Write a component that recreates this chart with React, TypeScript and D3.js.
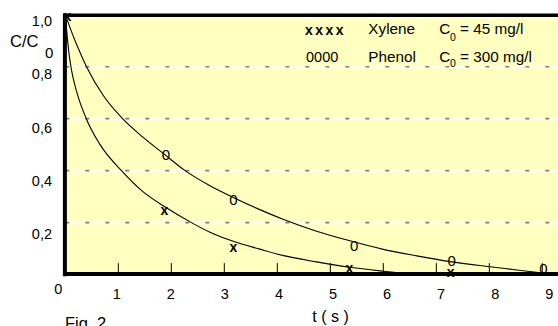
import React from 'react';
import * as d3 from 'd3';

const W = 558;
const H = 326;

// Axis ticks
const yGridValues = [0.2, 0.4, 0.6, 0.8];
const yTickValues = [0.2, 0.4, 0.6, 0.8, 1.0];
const yTickLabels = ['0,2', '0,4', '0,6', '0,8', '1,0'];
const xTickValues = [1, 2, 3, 4, 5, 6, 7, 8, 9];
const xTickLabels = ['1', '2', '3', '4', '5', '6', '7', '8', '9'];

// Measured points (markers)
const xyleneT = [0.04, 1.87, 3.17, 5.36, 7.27];
const xyleneV = [0.99, 0.242, 0.102, 0.021, 0.006];
const phenolT = [1.9, 3.17, 5.45, 7.29, 9.02];
const phenolV = [0.463, 0.287, 0.111, 0.053, 0.024];

// Fitted curves
const phenolCurveT = [0, 0.03, 0.21, 0.4, 0.72, 1.09, 1.47, 1.9, 2.26, 2.73, 3.17, 3.67, 4.12, 4.74, 5.37, 6.0, 6.63, 7.26, 7.89, 8.52, 9.02];
const phenolCurveV = [1.0, 0.983, 0.887, 0.8, 0.688, 0.598, 0.528, 0.458, 0.4, 0.342, 0.297, 0.25, 0.212, 0.167, 0.13, 0.097, 0.072, 0.05, 0.033, 0.018, 0.006];
const xyleneCurveT = [0, 0.03, 0.07, 0.12, 0.21, 0.4, 0.65, 1.06, 1.47, 1.87, 2.38, 2.73, 3.17, 3.67, 4.12, 4.74, 5.37, 6.0, 6.44];
const xyleneCurveV = [1.0, 0.93, 0.85, 0.784, 0.707, 0.598, 0.502, 0.4, 0.318, 0.262, 0.2, 0.163, 0.128, 0.098, 0.073, 0.049, 0.028, 0.013, 0.004];

const FONT = '"Liberation Sans", Arial, Helvetica, sans-serif';

export default function App() {
  const x = d3.scaleLinear().domain([0, 9]).range([65.3, 542.3]);
  const y = d3.scaleLinear().domain([0, 1]).range([274.6, 14.7]);
  const xLabel = d3.scaleLinear().domain([1, 9]).range([116.7, 549.3]);
  const yLabel = d3.scaleLinear().domain([0.2, 1.0]).range([239.3, 26]);

  const line = d3
    .line<[number, number]>()
    .x((d) => x(d[0]))
    .y((d) => y(d[1]))
    .curve(d3.curveMonotoneX);

  const phenolPath = line(phenolCurveT.map((t, i) => [t, phenolCurveV[i]] as [number, number])) || '';
  const xylenePath = line(xyleneCurveT.map((t, i) => [t, xyleneCurveV[i]] as [number, number])) || '';

  const left = x(0);
  const top = y(1);
  const bottom = y(0);

  return (
    <svg
      width={W}
      height={H}
      viewBox={`0 0 ${W} ${H}`}
      style={{ position: 'absolute', left: 0, top: 0, background: '#ffffff' }}
      fontFamily={FONT}
    >
      <rect x={0} y={0} width={W} height={H} fill="#ffffff" />
      {/* plot background */}
      <rect x={left} y={top} width={W - left + 10} height={bottom - top} fill="#FFFFBF" />

      {/* gridlines */}
      {yGridValues.map((v) => (
        <g key={v}>
          <line x1={left} x2={W + 5} y1={y(v)} y2={y(v)} stroke="#ffffff" strokeWidth={1.6} />
          <line x1={left} x2={W + 5} y1={y(v)} y2={y(v)} stroke="#7f7f7f" strokeWidth={1.6} strokeDasharray="4 16" />
        </g>
      ))}

      {/* curves */}
      <path d={phenolPath} fill="none" stroke="#000" strokeWidth={1.1} />
      <path d={xylenePath} fill="none" stroke="#000" strokeWidth={1.1} />

      {/* markers */}
      {phenolT.map((t, i) => (
        <text key={'p' + i} x={x(t)} y={y(phenolV[i])} dy="0.36em" textAnchor="middle" fontSize={15} fill="#000">
          0
        </text>
      ))}
      {xyleneT.map((t, i) => (
        <text key={'x' + i} x={x(t)} y={y(xyleneV[i])} dy="0.26em" textAnchor="middle" fontSize={14} fontWeight="bold" fill="#000">
          x
        </text>
      ))}

      {/* x ticks */}
      {xTickValues.map((t) => (
        <line key={'t' + t} x1={x(t)} x2={x(t)} y1={bottom - 2} y2={bottom - 11.5} stroke="#000" strokeWidth={1} />
      ))}

      {/* frame */}
      <line x1={left - 2} x2={W + 5} y1={top + 0.6} y2={top + 0.6} stroke="#000" strokeWidth={3.4} />
      <line x1={left - 0.4} x2={left - 0.4} y1={top - 1.2} y2={bottom + 1.6} stroke="#000" strokeWidth={4} />
      <line x1={left - 2} x2={W + 5} y1={bottom - 0.6} y2={bottom - 0.6} stroke="#000" strokeWidth={4} />

      {/* y tick labels */}
      {yTickValues.map((v, i) => (
        <text key={'yl' + v} x={52} y={yLabel(v)} textAnchor="end" fontSize={14.5} fill="#000">
          {yTickLabels[i]}
        </text>
      ))}
      {/* x tick labels */}
      <text x={58.3} y={294} textAnchor="middle" fontSize={14.5} fill="#000">
        0
      </text>
      {xTickValues.map((t, i) => (
        <text key={'xl' + t} x={xLabel(t)} y={299} textAnchor="middle" fontSize={14.5} fill="#000">
          {xTickLabels[i]}
        </text>
      ))}

      {/* axis titles */}
      <text x={10} y={46.5} fontSize={16.5} fill="#000">
        C/C
      </text>
      <text x={45} y={58.3} fontSize={15} fill="#000">
        0
      </text>
      <text x={330.5} y={322} textAnchor="middle" fontSize={16} fill="#000">
        t ( s )
      </text>
      <text x={65} y={328.5} fontSize={16.5} fill="#000">
        Fig. 2
      </text>

      {/* legend */}
      <text x={305} y={35} fontSize={14} fontWeight="bold" letterSpacing={2.5} fill="#000">
        xxxx
      </text>
      <text x={368.3} y={34} fontSize={15.3} fill="#000">
        Xylene
      </text>
      <text x={439.3} y={34} fontSize={15.3} fill="#000">
        C
      </text>
      <text x={450} y={41} fontSize={10.5} fill="#000">
        0
      </text>
      <text x={460} y={34} fontSize={15.3} fill="#000">
        = 45 mg/l
      </text>

      <text x={306} y={61.5} fontSize={14.5} fill="#000">
        0000
      </text>
      <text x={368.3} y={61.5} fontSize={15.3} fill="#000">
        Phenol
      </text>
      <text x={439.3} y={61.5} fontSize={15.3} fill="#000">
        C
      </text>
      <text x={450} y={67} fontSize={10.5} fill="#000">
        0
      </text>
      <text x={460} y={61.5} fontSize={15.3} fill="#000">
        = 300 mg/l
      </text>
    </svg>
  );
}
